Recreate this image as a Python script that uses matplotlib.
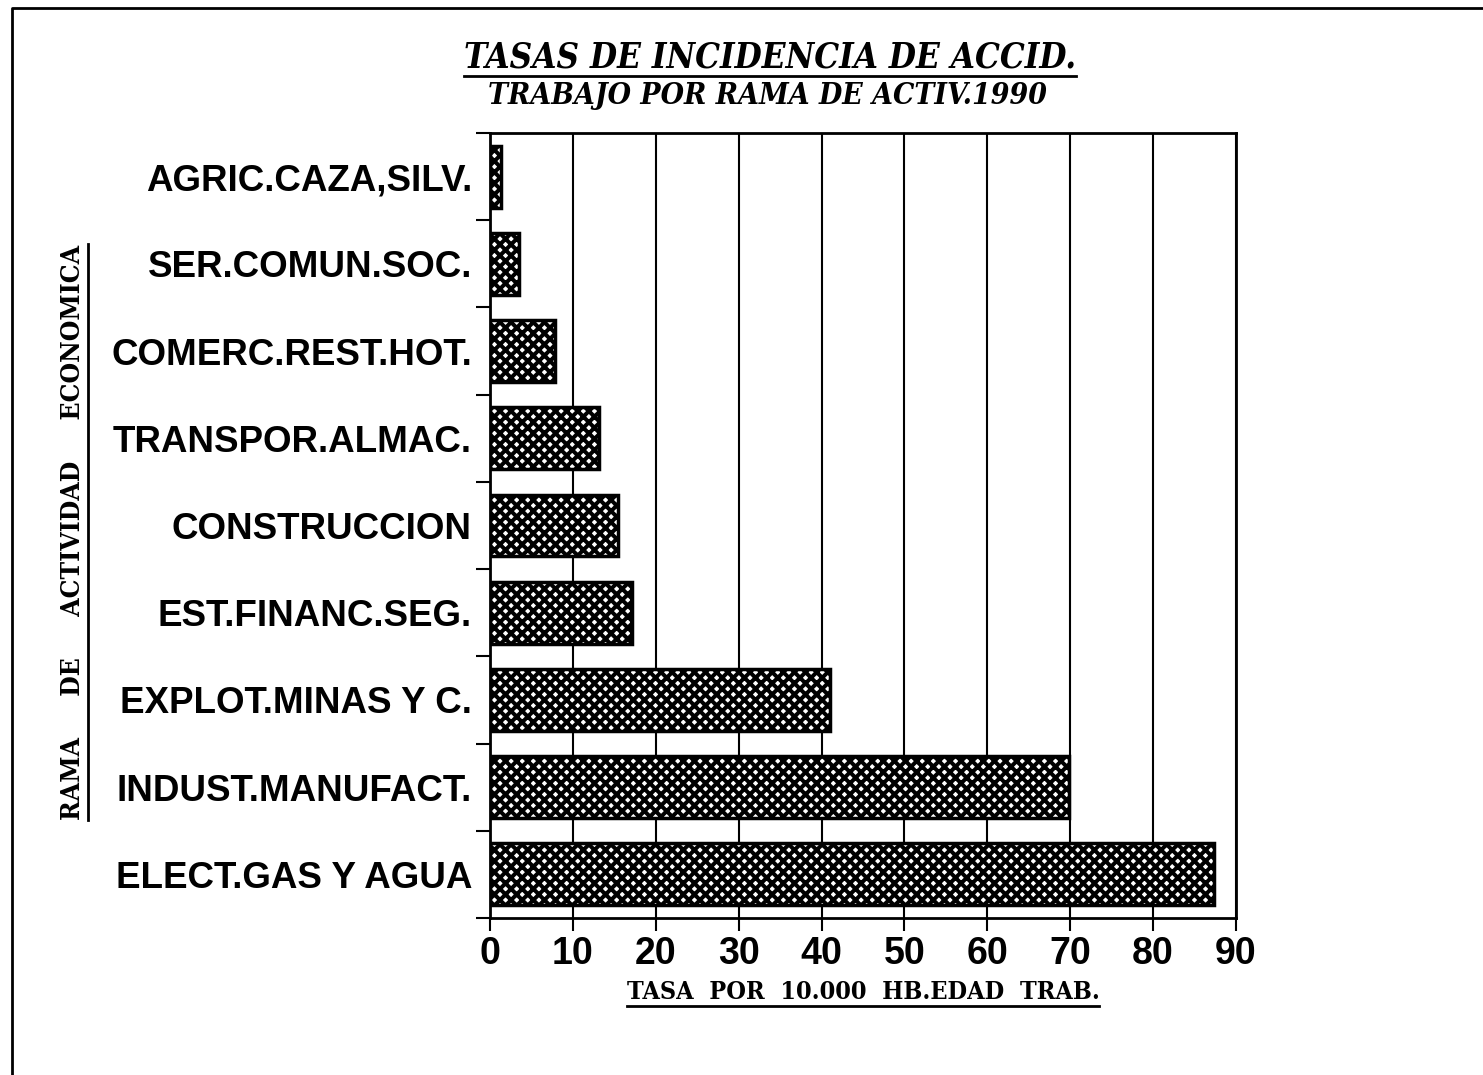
import matplotlib
matplotlib.use("Agg")
import matplotlib.pyplot as plt
from matplotlib.lines import Line2D
from matplotlib.ticker import FixedLocator

# Tasas de incidencia por rama de actividad, 1990
ramas = ["AGRIC.CAZA,SILV.", "SER.COMUN.SOC.", "COMERC.REST.HOT.",
         "TRANSPOR.ALMAC.", "CONSTRUCCION", "EST.FINANC.SEG.",
         "EXPLOT.MINAS Y C.", "INDUST.MANUFACT.", "ELECT.GAS Y AGUA"]
tasas = [1.3, 3.5, 7.8, 13.2, 15.5, 17.1, 41.0, 69.8, 87.3]
xticks = [0, 10, 20, 30, 40, 50, 60, 70, 80, 90]

plt.rcParams["hatch.linewidth"] = 2.9

W, H = 1483, 1075
fig = plt.figure(figsize=(W / 100, H / 100), dpi=100)
ax = fig.add_axes([490 / W, 1 - 918 / H, 746 / W, 785 / H])

pos = list(range(len(ramas)))
ax.barh(pos, tasas, height=0.71, color="white", edgecolor="black",
        linewidth=2.5, hatch="xxx", zorder=3)

ax.set_xlim(0, 90)
ax.set_ylim(len(ramas) - 0.5, -0.5)
ax.set_xticks(xticks)
ax.set_xticklabels([str(v) for v in xticks], fontsize=27, fontweight="bold",
                   family="Liberation Sans")
ax.set_yticks(pos)
ax.set_yticklabels(ramas, fontsize=26.5, fontweight="bold", family="Liberation Sans")
ax.yaxis.set_minor_locator(FixedLocator([i - 0.5 for i in range(len(ramas) + 1)]))
ax.tick_params(axis="y", which="major", length=0, pad=13)
ax.tick_params(axis="y", which="minor", length=10, width=1.5, direction="out")
ax.tick_params(axis="x", length=9, width=1.5, pad=4)
ax.grid(axis="x", color="black", linewidth=1.5, zorder=0)
for s in ax.spines.values():
    s.set_linewidth(2)

title_font = dict(family="DejaVu Serif", fontstretch="condensed",
                  fontweight="bold", style="italic")
t1 = fig.text(770 / W, 1 - 57 / H, "TASAS DE INCIDENCIA DE ACCID.",
              ha="center", va="center", fontsize=25, **title_font)
t2 = fig.text(767 / W, 1 - 96 / H, "TRABAJO POR RAMA DE ACTIV.1990",
              ha="center", va="center", fontsize=21.5, **title_font)
xl = fig.text(863 / W, 1 - 992 / H, "TASA  POR  10.000  HB.EDAD  TRAB.",
              ha="center", va="center", fontsize=18, family="DejaVu Serif",
              fontstretch="condensed", fontweight="bold")
yl = fig.text(73 / W, 1 - 532 / H, "RAMA     DE     ACTIVIDAD     ECONOMICA",
              ha="center", va="center", rotation=90, fontsize=19,
              family="DejaVu Serif", fontstretch="condensed", fontweight="bold")

# underlines under the titles and axis labels
fig.canvas.draw()
r = fig.canvas.get_renderer()
inv = fig.transFigure.inverted()
for t in (t1, xl):
    bb = t.get_window_extent(r)
    (x0, y0), (x1, _) = inv.transform([(bb.x0, bb.y0 - 2), (bb.x1, bb.y0)])
    fig.add_artist(Line2D([x0, x1], [y0, y0], color="black", lw=2,
                          transform=fig.transFigure))
bb = yl.get_window_extent(r)
(x0, y0), (_, y1) = inv.transform([(bb.x1 + 2, bb.y0), (bb.x1, bb.y1)])
fig.add_artist(Line2D([x0, x0], [y0, y1], color="black", lw=2,
                      transform=fig.transFigure))

# page frame on left and top
fig.add_artist(Line2D([12 / W, 12 / W, 1], [0, 1 - 8 / H, 1 - 8 / H],
                      color="black", lw=2, transform=fig.transFigure))

fig.savefig("out.png", dpi=100)
